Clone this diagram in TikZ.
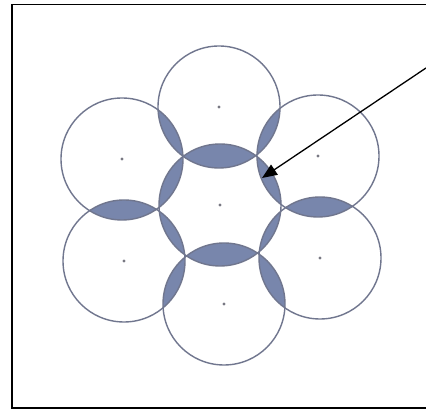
\documentclass[tikz,border=0pt]{standalone}
\usetikzlibrary{arrows.meta}
\definecolor{ringline}{RGB}{112,118,142}
\definecolor{lensfill}{RGB}{120,134,172}
\definecolor{dotc}{RGB}{120,120,130}
\begin{document}
\begin{tikzpicture}[x=1pt,y=-1pt,
  ring/.style={draw=ringline,line width=1.4pt},
  lens/.style={fill=lensfill},
  centre/.style={fill=dotc},
  frameline/.style={draw=black,line width=1.7pt},
  pointer/.style={draw=black,line width=1.3pt,-{Triangle[length=15pt,width=12pt]}}]
\useasboundingbox (0,0) rectangle (426,411);
\fill[white] (0,0) rectangle (426,411);
\coordinate (C)  at (220,205);
\coordinate (T)  at (219,107);
\coordinate (UR) at (318,156);
\coordinate (LR) at (320,258);
\coordinate (B)  at (224,304);
\coordinate (LL) at (124,261);
\coordinate (UL) at (122,159);
\def\R{61pt}
\foreach \a/\b in {C/T,C/UR,C/LR,C/B,C/LL,C/UL,T/UR,UR/LR,LR/B,B/LL,LL/UL,UL/T}{
  \begin{scope}
    \clip (\a) circle[radius=\R];
    \fill[lens] (\b) circle[radius=\R];
  \end{scope}
}
\foreach \c in {C,T,UR,LR,B,LL,UL}{
  \draw[ring] (\c) circle[radius=\R];
  \fill[centre] (\c) circle[radius=1.6pt];
}
\coordinate (tl) at (12,4.5);
\coordinate (tr) at (426,4.5);
\coordinate (bl) at (12,408);
\coordinate (br) at (426,408);
\draw[frameline] (tr) -- (tl) -- (bl) -- (br);
\coordinate (arrowstart) at (426,68);
\coordinate (arrowtip) at (262,178);
\draw[pointer] (arrowstart) -- (arrowtip);
\end{tikzpicture}
\end{document}
